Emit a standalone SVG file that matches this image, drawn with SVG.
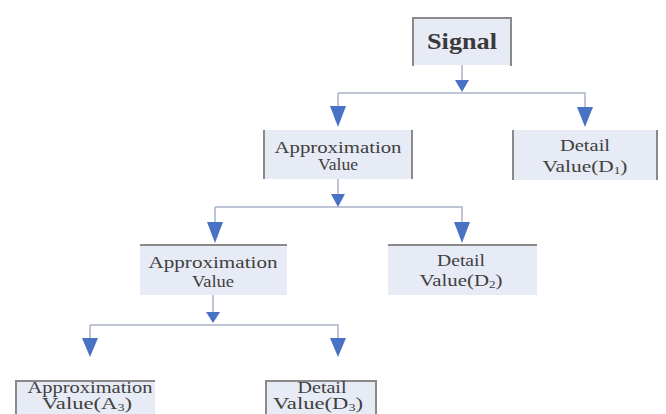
<svg xmlns="http://www.w3.org/2000/svg" width="666" height="414" viewBox="0 0 666 414">
<style>
.box{fill:#e7ebf5;}
.edge{stroke:#8a8a8a;stroke-width:2;fill:none;}
.lbl{font-family:"Liberation Serif","Times New Roman",serif;font-size:16px;fill:#404040;text-anchor:middle;}
.sig{font-family:"Liberation Serif","Times New Roman",serif;font-size:23px;font-weight:bold;fill:#3a3a3a;text-anchor:middle;}
.sub{font-size:10px;}
.ln{stroke:#a9b4c8;stroke-width:1.5;fill:none;}
.tri{fill:#4a72c4;}
</style>
<rect width="666" height="414" fill="#ffffff"/>
<g id="connectors">
<path class="ln" d="M462 65V86M338 93H585V110M338 93V110"/>
<path class="tri" d="M455 80H469L462 92Z"/>
<path class="tri" d="M330 106H346L338 127Z"/>
<path class="tri" d="M577 107H593L585 127Z"/>
<path class="ln" d="M338 179V200M215 207H462V225M215 207V225"/>
<path class="tri" d="M331 194H345L338 207Z"/>
<path class="tri" d="M207 222H223L215 243Z"/>
<path class="tri" d="M454 222H470L462 243Z"/>
<path class="ln" d="M213 295V318M90 325H338V342M90 325V342"/>
<path class="tri" d="M206 312H220L213 323Z"/>
<path class="tri" d="M82 338H98L90 357Z"/>
<path class="tri" d="M330 338H346L338 357Z"/>
</g>
<g id="signal">
<rect class="box" x="412" y="17" width="100" height="48"/>
<path class="edge" d="M413 66V18H511V66"/>
<text class="sig" x="462" y="49" textLength="70" lengthAdjust="spacingAndGlyphs">Signal</text>
</g>
<g id="detail1">
<rect class="box" x="512" y="130" width="146" height="50"/>
<path class="edge" d="M513 130V180M657 130V180"/>
<text class="lbl" x="585" y="151" textLength="50" lengthAdjust="spacingAndGlyphs">Detail</text>
<text class="lbl" x="585" y="172" textLength="85" lengthAdjust="spacingAndGlyphs">Value(D<tspan class="sub" dy="2">1</tspan><tspan dy="-2">)</tspan></text>
</g>
<g id="approx1">
<rect class="box" x="263" y="130" width="150" height="49"/>
<path class="edge" d="M264 130V179M412 130V179"/>
<text class="lbl" x="338" y="153" textLength="127" lengthAdjust="spacingAndGlyphs">Approximation</text>
<text class="lbl" x="338" y="170" textLength="40" lengthAdjust="spacingAndGlyphs">Value</text>
</g>
<g id="approx2">
<rect class="box" x="140" y="245" width="147" height="50"/>
<path class="edge" d="M140 245H287"/>
<text class="lbl" x="213" y="268" textLength="129" lengthAdjust="spacingAndGlyphs">Approximation</text>
<text class="lbl" x="213" y="287" textLength="42" lengthAdjust="spacingAndGlyphs">Value</text>
</g>
<g id="detail2">
<rect class="box" x="388" y="245" width="149" height="50"/>
<path class="edge" d="M388 245H537"/>
<text class="lbl" x="461" y="266" textLength="48" lengthAdjust="spacingAndGlyphs">Detail</text>
<text class="lbl" x="461" y="286" textLength="83" lengthAdjust="spacingAndGlyphs">Value(D<tspan class="sub" dy="2">2</tspan><tspan dy="-2">)</tspan></text>
</g>
<g id="approx3">
<rect class="box" x="15" y="380" width="140" height="34"/>
<path class="edge" d="M16 414V381H155"/>
<text class="lbl" x="90" y="393" textLength="125" lengthAdjust="spacingAndGlyphs">Approximation</text>
<text class="lbl" x="87" y="409" textLength="90" lengthAdjust="spacingAndGlyphs">Value(A<tspan class="sub" dy="2">3</tspan><tspan dy="-2">)</tspan></text>
</g>
<g id="detail3">
<rect class="box" x="265" y="380" width="112" height="34"/>
<path class="edge" d="M266 414V381H376V414"/>
<text class="lbl" x="322" y="393" textLength="49" lengthAdjust="spacingAndGlyphs">Detail</text>
<text class="lbl" x="318" y="409" textLength="90" lengthAdjust="spacingAndGlyphs">Value(D<tspan class="sub" dy="2">3</tspan><tspan dy="-2">)</tspan></text>
</g>
</svg>
